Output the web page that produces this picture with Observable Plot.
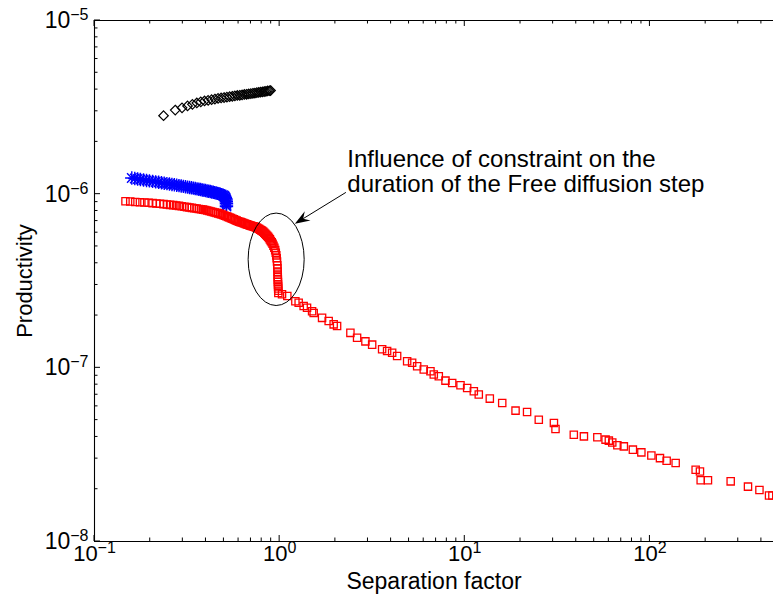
<!DOCTYPE html>
<html><head><meta charset="utf-8">
<script src="https://cdn.jsdelivr.net/npm/d3@7"></script>
<script src="https://cdn.jsdelivr.net/npm/@observablehq/plot@0.6"></script>
<style>body{margin:0;background:#fff;} svg{font-family:"Liberation Sans",Arial,sans-serif;}</style>
</head><body><div id="chart"></div>
<script>
const xLabel = "Separation factor";
const yLabel = "Productivity";
const xDomain = [0.1, 465];
const yDomain = [1e-8, 1e-5];
const xMajorTicks = [0.1, 1, 10, 100];
const xMajorLabels = ["10^\u22121", "10^0", "10^1", "10^2"];
const yMajorTicks = [1e-8, 1e-7, 1e-6, 1e-5];
const yMajorLabels = ["10^\u22128", "10^\u22127", "10^\u22126", "10^\u22125"];
const xMinorTicks = [0.2,0.3,0.4,0.5,0.6,0.7,0.8,0.9,2,3,4,5,6,7,8,9,20,30,40,50,60,70,80,90,200,300,400];
const yMinorTicks = [2e-8,3e-8,4e-8,5e-8,6e-8,7e-8,8e-8,9e-8,2e-7,3e-7,4e-7,5e-7,6e-7,7e-7,8e-7,9e-7,2e-6,3e-6,4e-6,5e-6,6e-6,7e-6,8e-6,9e-6];

// black diamonds
const blackX = [0.236,0.273,0.297,0.318,0.338,0.357,0.375,0.393,0.411,0.429,0.447,0.465,0.483,0.501,0.519,0.537,0.555,0.573,0.591,0.609,0.627,0.645,0.663,0.681,0.699,0.717,0.735,0.753,0.771,0.789,0.807,0.825,0.843,0.861,0.879,0.893];
const blackY = [2.83e-6,3.05e-6,3.14e-6,3.22e-6,3.29e-6,3.35e-6,3.40e-6,3.44e-6,3.47e-6,3.50e-6,3.53e-6,3.56e-6,3.58e-6,3.60e-6,3.62e-6,3.64e-6,3.66e-6,3.68e-6,3.70e-6,3.71e-6,3.73e-6,3.75e-6,3.76e-6,3.78e-6,3.79e-6,3.81e-6,3.82e-6,3.84e-6,3.85e-6,3.87e-6,3.88e-6,3.90e-6,3.91e-6,3.93e-6,3.94e-6,3.95e-6];

// blue asterisks
const blueX = [0.159,0.165,0.171,0.177,0.184,0.191,0.198,0.206,0.214,0.222,0.230,0.238,0.246,0.254,0.262,0.270,0.278,0.286,0.294,0.302,0.310,0.318,0.326,0.334,0.342,0.350,0.358,0.366,0.374,0.382,0.390,0.398,0.406,0.414,0.422,0.430,0.438,0.446,0.454,0.462,0.470,0.478,0.486,0.494,0.500,0.505,0.509,0.512,0.514,0.515,0.516,0.516,0.516];
const blueY = [1.240e-6,1.232e-6,1.224e-6,1.216e-6,1.208e-6,1.200e-6,1.193e-6,1.185e-6,1.177e-6,1.170e-6,1.163e-6,1.157e-6,1.150e-6,1.144e-6,1.138e-6,1.132e-6,1.126e-6,1.120e-6,1.114e-6,1.109e-6,1.103e-6,1.098e-6,1.093e-6,1.088e-6,1.083e-6,1.078e-6,1.073e-6,1.068e-6,1.063e-6,1.058e-6,1.054e-6,1.049e-6,1.044e-6,1.040e-6,1.035e-6,1.030e-6,1.026e-6,1.021e-6,1.016e-6,1.011e-6,1.006e-6,1.000e-6,0.994e-6,0.987e-6,0.980e-6,0.970e-6,0.958e-6,0.943e-6,0.925e-6,0.905e-6,0.885e-6,0.865e-6,0.848e-6];

// red squares
const redX = [0.147,0.156,0.166,0.176,0.186,0.196,0.206,0.216,0.226,0.236,0.246,0.256,0.266,0.276,0.286,0.296,0.306,0.316,0.326,0.336,0.346,0.356,0.366,0.376,0.386,0.396,0.406,0.416,0.426,0.436,0.446,0.456,0.466,0.476,0.486,0.496,0.506,0.516,0.526,0.536,0.546,0.556,0.566,0.576,0.586,0.596,0.606,0.616,0.626,0.636,0.646,0.656,0.666,0.676,0.686,0.696,0.706,0.716,0.726,0.736,0.746,0.756,0.766,0.776,0.786,0.796,0.806,0.816,0.826,0.836,0.846,0.856,0.866,0.876,0.886,0.896,0.906,0.916,0.926,0.936,0.946,0.953,0.959,0.964,0.968,0.971,0.973,0.975,0.976,0.977,0.978,0.979,0.980,0.981,0.982,0.983,0.984,
  1.03,1.10,1.216,1.267,1.348,1.406,1.497,1.527,1.695,1.84,1.958,2.043,2.411,2.62,2.906,3.16,3.577,3.806,4.052,4.311,4.883,5.196,5.53,6.003,6.525,6.80,7.237,7.865,8.55,9.48,10.3,11.19,11.9,13.65,15.93,18.8,21.7,25.1,30.3,30.9,38.8,44.0,52.0,57.6,60.0,62.6,66.7,72.3,80.9,89.9,101.8,113.3,123.1,137.7,176.6,186.3,188,205.8,273,338.6,390.4,439.9,458.7];
const redY = [9.11e-7,9.07e-7,9.02e-7,8.98e-7,8.95e-7,8.92e-7,8.88e-7,8.84e-7,8.80e-7,8.76e-7,8.72e-7,8.68e-7,8.65e-7,8.61e-7,8.56e-7,8.51e-7,8.47e-7,8.42e-7,8.38e-7,8.34e-7,8.30e-7,8.26e-7,8.22e-7,8.18e-7,8.15e-7,8.10e-7,8.05e-7,8.00e-7,7.95e-7,7.90e-7,7.85e-7,7.80e-7,7.75e-7,7.70e-7,7.64e-7,7.58e-7,7.52e-7,7.46e-7,7.40e-7,7.34e-7,7.28e-7,7.22e-7,7.16e-7,7.10e-7,7.04e-7,6.99e-7,6.94e-7,6.90e-7,6.86e-7,6.82e-7,6.78e-7,6.74e-7,6.70e-7,6.66e-7,6.62e-7,6.59e-7,6.56e-7,6.53e-7,6.50e-7,6.48e-7,6.44e-7,6.40e-7,6.35e-7,6.30e-7,6.24e-7,6.19e-7,6.14e-7,6.07e-7,6.00e-7,5.92e-7,5.84e-7,5.76e-7,5.69e-7,5.59e-7,5.49e-7,5.38e-7,5.28e-7,5.18e-7,5.05e-7,4.92e-7,4.76e-7,4.60e-7,4.44e-7,4.28e-7,4.10e-7,3.90e-7,3.74e-7,3.58e-7,3.45e-7,3.33e-7,3.22e-7,3.12e-7,3.02e-7,2.94e-7,2.86e-7,2.78e-7,2.70e-7,
  2.65e-7,2.59e-7,2.42e-7,2.37e-7,2.27e-7,2.22e-7,2.12e-7,2.07e-7,1.94e-7,1.86e-7,1.78e-7,1.74e-7,1.59e-7,1.49e-7,1.42e-7,1.36e-7,1.28e-7,1.25e-7,1.22e-7,1.17e-7,1.09e-7,1.07e-7,1.02e-7,9.78e-8,9.56e-8,9.15e-8,8.94e-8,8.44e-8,8.18e-8,7.94e-8,7.66e-8,7.33e-8,7.02e-8,6.65e-8,6.27e-8,5.67e-8,5.57e-8,5.03e-8,4.81e-8,4.44e-8,4.12e-8,4.03e-8,3.98e-8,3.86e-8,3.81e-8,3.72e-8,3.58e-8,3.53e-8,3.38e-8,3.26e-8,3.13e-8,3.02e-8,2.92e-8,2.83e-8,2.59e-8,2.53e-8,2.25e-8,2.25e-8,2.22e-8,2.07e-8,1.98e-8,1.84e-8,1.84e-8];

// annotation
const annotationLines = ["Influence of constraint on the", "duration of the Free diffusion step"];
const annotationX = 2.32;
const annotationY = 1.35e-6;
const ellipseX = [0.68, 1.365];
const ellipseY = [7.73e-7, 2.27e-7];
const arrowFrom = [2.294, 1.017e-6];
const arrowTo = [1.216, 6.71e-7];

(function () {
const zip = (xs, ys) => xs.map((x, i) => ({x, y: ys[i]}));
const black = zip(blackX, blackY), blue = zip(blueX, blueY), red = zip(redX, redY);
const xLab = new Map(xMajorTicks.map((t, i) => [t, xMajorLabels[i]]));
const yLab = new Map(yMajorTicks.map((t, i) => [t, yMajorLabels[i]]));
const font = "Liberation Sans, Arial, sans-serif";

const chart = Plot.plot({
  width: 773, height: 594,
  marginLeft: 94, marginRight: 0, marginTop: 20, marginBottom: 53,
  style: {fontFamily: font, background: "white", overflow: "visible"},
  x: {type: "log", domain: xDomain},
  y: {type: "log", domain: yDomain},
  marks: [
    Plot.ruleY(yDomain, {stroke: "black", strokeWidth: 1.1}),
    Plot.ruleX([xDomain[0]], {stroke: "black", strokeWidth: 1.1}),
    Plot.axisX({anchor: "bottom", ticks: xMajorTicks, tickSize: 0, tickPadding: 4, tickFormat: d => xLab.get(d), fontSize: 22, fill: "black", label: null}),
    Plot.axisY({anchor: "left", ticks: yMajorTicks, tickSize: 0, tickPadding: 6, tickFormat: d => yLab.get(d), fontSize: 23, fill: "black", label: null}),
    Plot.dot(black, {x: "x", y: "y", symbol: "diamond2", r: 4.3, stroke: "black", fill: "none", strokeWidth: 1.2}),
    Plot.dot(blue, {x: "x", y: "y", symbol: "plus", r: 4.4, stroke: "#0000ff", strokeWidth: 1.4}),
    Plot.dot(blue, {x: "x", y: "y", symbol: "times", r: 4.4, stroke: "#0000ff", strokeWidth: 1.4}),
    Plot.dot(red, {x: "x", y: "y", symbol: "square", r: 4.1, stroke: "#ff0000", fill: "none", strokeWidth: 1.3}),
    Plot.text([annotationLines.join("\n")], {x: annotationX, y: annotationY, textAnchor: "start", lineAnchor: "middle", lineHeight: 1.05, fontSize: 24, fill: "black"}),
    Plot.text([xLabel], {frameAnchor: "bottom", textAnchor: "middle", dy: 47, fontSize: 23, fill: "black"}),
    Plot.text([yLabel], {frameAnchor: "left", textAnchor: "middle", dx: -70, rotate: -90, fontSize: 22, fill: "black"})
  ]
});

const ns = "http://www.w3.org/2000/svg";
// superscript exponents in tick labels
chart.querySelectorAll("text").forEach(t => {
  const s = t.textContent;
  if (!s.includes("^")) return;
  const [b, e] = s.split("^");
  t.textContent = "";
  const t1 = document.createElementNS(ns, "tspan"); t1.textContent = b;
  const t2 = document.createElementNS(ns, "tspan"); t2.textContent = e;
  t2.setAttribute("dy", "-0.5em"); t2.setAttribute("font-size", "16");
  t.append(t1, t2);
});

const sx = chart.scale("x"), sy = chart.scale("y");
const g = document.createElementNS(ns, "g");
function seg(x1, y1, x2, y2, w) {
  const l = document.createElementNS(ns, "line");
  l.setAttribute("x1", x1); l.setAttribute("y1", y1); l.setAttribute("x2", x2); l.setAttribute("y2", y2);
  l.setAttribute("stroke", "black"); l.setAttribute("stroke-width", w || 1);
  g.append(l);
}
// inward ticks through the scales
const pBottom = sy.apply(yDomain[0]), pTop = sy.apply(yDomain[1]), pLeft = sx.apply(xDomain[0]);
for (const [ticks, len] of [[xMajorTicks, 6], [xMinorTicks, 3.5]]) {
  for (const t of ticks) {
    const px = sx.apply(t);
    seg(px, pBottom, px, pBottom - len);
    seg(px, pTop, px, pTop + len);
  }
}
for (const [ticks, len] of [[yMajorTicks, 6], [yMinorTicks, 3.5]]) {
  for (const t of ticks) {
    const py = sy.apply(t);
    seg(pLeft, py, pLeft + len, py);
  }
}
// ellipse
const ex0 = sx.apply(ellipseX[0]), ex1 = sx.apply(ellipseX[1]);
const ey0 = sy.apply(ellipseY[0]), ey1 = sy.apply(ellipseY[1]);
const el = document.createElementNS(ns, "ellipse");
el.setAttribute("cx", (ex0 + ex1) / 2); el.setAttribute("cy", (ey0 + ey1) / 2);
el.setAttribute("rx", Math.abs(ex1 - ex0) / 2); el.setAttribute("ry", Math.abs(ey1 - ey0) / 2);
el.setAttribute("fill", "none"); el.setAttribute("stroke", "black"); el.setAttribute("stroke-width", "1");
g.append(el);
// arrow
const ax1 = sx.apply(arrowFrom[0]), ay1 = sy.apply(arrowFrom[1]);
const ax2 = sx.apply(arrowTo[0]), ay2 = sy.apply(arrowTo[1]);
const ang = Math.atan2(ay2 - ay1, ax2 - ax1);
const L = 15, W = 5.5;
const bx = ax2 - L * Math.cos(ang), by = ay2 - L * Math.sin(ang);
const nx = -Math.sin(ang), ny = Math.cos(ang);
const mx = ax2 - 0.65 * L * Math.cos(ang), my = ay2 - 0.65 * L * Math.sin(ang);
seg(ax1, ay1, mx, my, 1);
const head = document.createElementNS(ns, "polygon");
head.setAttribute("points", `${ax2},${ay2} ${bx + W * nx},${by + W * ny} ${mx},${my} ${bx - W * nx},${by - W * ny}`);
head.setAttribute("fill", "black");
g.append(head);
chart.append(g);

document.getElementById("chart").append(chart);
})();
</script>
</body></html>
